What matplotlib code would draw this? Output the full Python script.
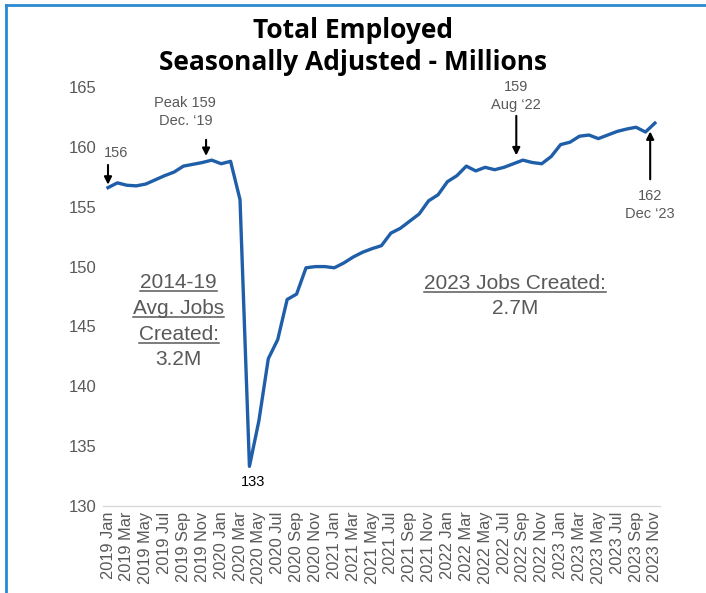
import numpy as np
import matplotlib.pyplot as plt
from matplotlib.lines import Line2D

# --- Data (millions, seasonally adjusted) ---
months = ["Jan", "Feb", "Mar", "Apr", "May", "Jun",
          "Jul", "Aug", "Sep", "Oct", "Nov", "Dec"]
years = [2019, 2020, 2021, 2022, 2023]

employed = [
    156.6, 157.0, 156.8, 156.75, 156.9, 157.25, 157.6, 157.9, 158.4, 158.55, 158.7, 158.9,
    158.6, 158.8, 155.6, 133.3, 137.1, 142.3, 143.9, 147.25, 147.7, 149.9, 150.0, 150.0,
    149.9, 150.3, 150.8, 151.2, 151.5, 151.75, 152.8, 153.2, 153.8, 154.4, 155.5, 156.0,
    157.1, 157.6, 158.4, 158.0, 158.3, 158.1, 158.3, 158.6, 158.9, 158.7, 158.6, 159.2,
    160.2, 160.4, 160.9, 161.0, 160.7, 161.0, 161.3, 161.5, 161.65, 161.25, 162.0,
]
# series runs Jan 2019 .. Nov 2023
periods = [f"{y} {m}" for y in years for m in months][:len(employed)]

y_ticks = [130, 135, 140, 145, 150, 155, 160, 165]

TITLE = "Total Employed\nSeasonally Adjusted - Millions"
LINE_COLOR = "#1f5ea8"
GRAY = "#595959"
FRAME = "#2a8bd0"

x = np.arange(len(employed))

fig = plt.figure(figsize=(7.06, 5.93), dpi=100)
ax = fig.add_axes([0.1463, 0.147, 0.788, 0.706])

ax.plot(x, employed, color=LINE_COLOR, lw=2.4, solid_joinstyle="round")

ax.set_xlim(-0.5, len(employed) - 0.5)
ax.set_ylim(130, 165)
ax.set_yticks(y_ticks)
ax.set_xticks(x[::2])
ax.set_xticklabels(periods[::2], rotation=90, fontsize=11.8, color=GRAY,
                   family="Liberation Sans")
for lab in ax.get_yticklabels():
    lab.set_fontsize(12)
    lab.set_color(GRAY)
    lab.set_family("Liberation Sans")
ax.tick_params(axis="both", length=0)
ax.tick_params(axis="y", pad=5)
ax.tick_params(axis="x", pad=4)
for side in ["top", "right", "left"]:
    ax.spines[side].set_visible(False)
ax.spines["bottom"].set_color("#d9d9d9")
ax.spines["bottom"].set_linewidth(1)

fig.suptitle(TITLE, y=0.972, fontsize=19, fontweight="bold",
             family="Open Sans", linespacing=1.25)

arrow = dict(arrowstyle="-|>", color="black", lw=1.5, mutation_scale=11,
             shrinkA=0, shrinkB=0)
afont = dict(family="Liberation Sans", color=GRAY, fontsize=10.5,
             ha="center", linespacing=1.35)

# 156 start
ax.annotate("", xy=(0, 156.85), xytext=(0, 158.5), arrowprops=arrow)
ax.text(0.9, 158.9, "156", va="bottom", **afont)

# Peak Dec '19
ax.annotate("", xy=(10.4, 159.25), xytext=(10.4, 160.6), arrowprops=arrow)
ax.text(8.2, 161.6, "Peak 159\nDec. \u201819", va="bottom", **afont)

# Trough
ax.text(15.4, 132.0, "133", va="center", ha="center", fontsize=10.5,
        family="Liberation Sans", color="black")

# Aug '22
ax.annotate("", xy=(43.3, 159.3), xytext=(43.3, 162.6), arrowprops=arrow)
ax.text(43.3, 162.9, "159\nAug \u201822", va="bottom", **afont)

# Dec '23
ax.annotate("", xy=(57.5, 161.3), xytext=(57.5, 157.3), arrowprops=arrow)
ax.text(57.5, 156.5, "162\nDec \u201823", va="top", **afont)

# Callout text blocks
big = dict(family="Liberation Sans", color=GRAY, fontsize=15, ha="center",
           va="center")
left_lines = ["2014-19", "Avg. Jobs", "Created:", "3.2M"]
left_y = [148.7, 146.5, 144.3, 142.2]
right_lines = ["2023 Jobs Created:", "2.7M"]
right_y = [148.6, 146.5]

under = []
for t, yy in zip(left_lines, left_y):
    h = ax.text(7.5, yy, t, **big)
    if t != "3.2M":
        under.append(h)
for t, yy in zip(right_lines, right_y):
    h = ax.text(43.2, yy, t, **big)
    if t != "2.7M":
        under.append(h)

# underline the headings
fig.canvas.draw()
r = fig.canvas.get_renderer()
for h in under:
    bb = h.get_window_extent(renderer=r)
    x0, x1 = bb.x0 / fig.bbox.width, bb.x1 / fig.bbox.width
    yb = (bb.y0 + 1) / fig.bbox.height
    fig.add_artist(Line2D([x0, x1], [yb, yb], color=GRAY, lw=1.1))

# blue frame on left and top edges
fig.add_artist(Line2D([0.008, 0.008], [0, 0.992], color=FRAME, lw=2))
fig.add_artist(Line2D([0.008, 1.0], [0.992, 0.992], color=FRAME, lw=2))

fig.savefig("out.png", dpi=100)
